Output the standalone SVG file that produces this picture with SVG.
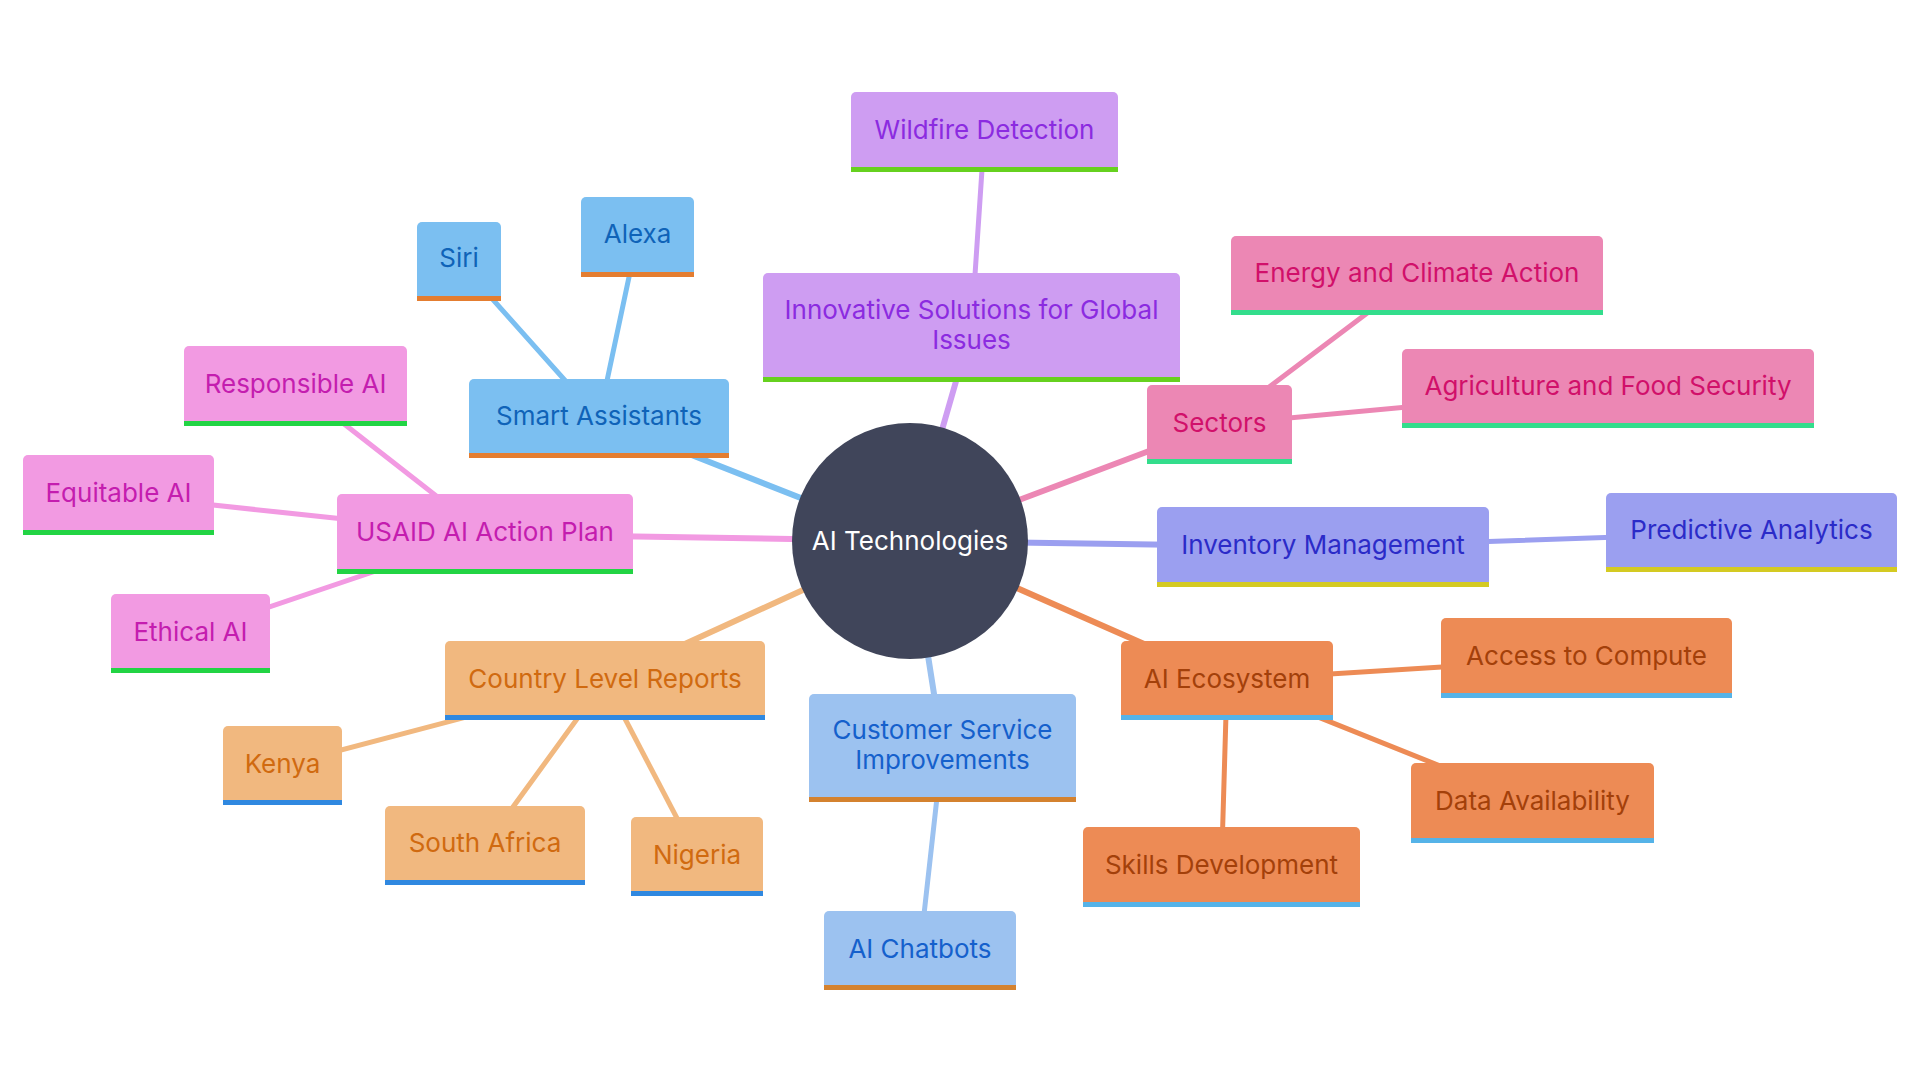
<svg xmlns="http://www.w3.org/2000/svg" width="1920" height="1080" viewBox="0 0 1920 1080">
<style>
text{font-family:Inter,"Noto Sans",sans-serif;font-size:26px;text-anchor:middle}
.e{stroke-linecap:round;fill:none}
.l1{stroke-width:6}
.l2{stroke-width:5}
.gP .b{fill:#CE9DF2}.gP .s{fill:#66D11F}.gP text{fill:#8B2BE0}
.gS .b{fill:#EC87B4}.gS .s{fill:#33DD8C}.gS text{fill:#D1106A}
.gI .b{fill:#9B9FF0}.gI .s{fill:#D4CA22}.gI text{fill:#2B2BC8}
.gO .b{fill:#ED8B55}.gO .s{fill:#55B3E8}.gO text{fill:#A3400A}
.gC .b{fill:#9CC2F0}.gC .s{fill:#D4822F}.gC text{fill:#1560CC}
.gT .b{fill:#F1B87F}.gT .s{fill:#2F88E0}.gT text{fill:#D06A10}
.gU .b{fill:#F29AE2}.gU .s{fill:#22D444}.gU text{fill:#C41DAF}
.gA .b{fill:#7BBFF1}.gA .s{fill:#E47D30}.gA text{fill:#0F63B8}
</style>
<rect width="1920" height="1080" fill="#ffffff"/>
<g id="connectors" class="e">
<g stroke="#CE9DF2">
<line class="l1" x1="910" y1="541" x2="971.5" y2="327.5"/>
<line class="l2" x1="971.5" y1="327.5" x2="984.5" y2="132"/>
</g>
<g stroke="#EC87B4">
<line class="l1" x1="910" y1="541" x2="1219.5" y2="424.5"/>
<line class="l2" x1="1219.5" y1="424.5" x2="1417" y2="275.5"/>
<line class="l2" x1="1219.5" y1="424.5" x2="1608" y2="388.5"/>
</g>
<g stroke="#9B9FF0">
<line class="l1" x1="910" y1="541" x2="1323" y2="547"/>
<line class="l2" x1="1323" y1="547" x2="1751.5" y2="532.5"/>
</g>
<g stroke="#ED8B55">
<line class="l1" x1="910" y1="541" x2="1227" y2="680.5"/>
<line class="l2" x1="1227" y1="680.5" x2="1586.5" y2="658"/>
<line class="l2" x1="1227" y1="680.5" x2="1532.5" y2="803"/>
<line class="l2" x1="1227" y1="680.5" x2="1221.5" y2="867"/>
</g>
<g stroke="#9CC2F0">
<line class="l1" x1="910" y1="541" x2="942.5" y2="748"/>
<line class="l2" x1="942.5" y1="748" x2="920" y2="950.5"/>
</g>
<g stroke="#F1B87F">
<line class="l1" x1="910" y1="541" x2="605" y2="680.5"/>
<line class="l2" x1="605" y1="680.5" x2="282.5" y2="765.5"/>
<line class="l2" x1="605" y1="680.5" x2="485" y2="845.5"/>
<line class="l2" x1="605" y1="680.5" x2="697" y2="856.5"/>
</g>
<g stroke="#F29AE2">
<line class="l1" x1="910" y1="541" x2="485" y2="534"/>
<line class="l2" x1="485" y1="534" x2="118.5" y2="495"/>
<line class="l2" x1="485" y1="534" x2="190.5" y2="633.5"/>
<line class="l2" x1="485" y1="534" x2="295.5" y2="386"/>
</g>
<g stroke="#7BBFF1">
<line class="l1" x1="910" y1="541" x2="599" y2="418.5"/>
<line class="l2" x1="599" y1="418.5" x2="459" y2="261.5"/>
<line class="l2" x1="599" y1="418.5" x2="637.5" y2="237"/>
</g>
</g>
<g id="root">
<circle cx="910" cy="541" r="118" fill="#40455A"/>
<text x="910" y="550" fill="#ffffff">AI Technologies</text>
</g>
<g id="innovative" class="gP"><rect class="b" x="763" y="273" width="417" height="109" rx="5"/><rect class="s" x="763" y="377" width="417" height="5"/><text x="971.5" y="319">Innovative Solutions for Global</text><text x="971.5" y="349">Issues</text></g>
<g id="wildfire" class="gP"><rect class="b" x="851" y="92" width="267" height="80" rx="5"/><rect class="s" x="851" y="167" width="267" height="5"/><text x="984.5" y="139">Wildfire Detection</text></g>
<g id="sectors" class="gS"><rect class="b" x="1147" y="385" width="145" height="79" rx="5"/><rect class="s" x="1147" y="459" width="145" height="5"/><text x="1219.5" y="432">Sectors</text></g>
<g id="energy" class="gS"><rect class="b" x="1231" y="236" width="372" height="79" rx="5"/><rect class="s" x="1231" y="310" width="372" height="5"/><text x="1417" y="282">Energy and Climate Action</text></g>
<g id="agriculture" class="gS"><rect class="b" x="1402" y="349" width="412" height="79" rx="5"/><rect class="s" x="1402" y="423" width="412" height="5"/><text x="1608" y="395">Agriculture and Food Security</text></g>
<g id="inventory" class="gI"><rect class="b" x="1157" y="507" width="332" height="80" rx="5"/><rect class="s" x="1157" y="582" width="332" height="5"/><text x="1323" y="554">Inventory Management</text></g>
<g id="predictive" class="gI"><rect class="b" x="1606" y="493" width="291" height="79" rx="5"/><rect class="s" x="1606" y="567" width="291" height="5"/><text x="1751.5" y="539">Predictive Analytics</text></g>
<g id="ecosystem" class="gO"><rect class="b" x="1121" y="641" width="212" height="79" rx="5"/><rect class="s" x="1121" y="715" width="212" height="5"/><text x="1227" y="688">AI Ecosystem</text></g>
<g id="compute" class="gO"><rect class="b" x="1441" y="618" width="291" height="80" rx="5"/><rect class="s" x="1441" y="693" width="291" height="5"/><text x="1586.5" y="665">Access to Compute</text></g>
<g id="data" class="gO"><rect class="b" x="1411" y="763" width="243" height="80" rx="5"/><rect class="s" x="1411" y="838" width="243" height="5"/><text x="1532.5" y="810">Data Availability</text></g>
<g id="skills" class="gO"><rect class="b" x="1083" y="827" width="277" height="80" rx="5"/><rect class="s" x="1083" y="902" width="277" height="5"/><text x="1221.5" y="874">Skills Development</text></g>
<g id="customer" class="gC"><rect class="b" x="809" y="694" width="267" height="108" rx="5"/><rect class="s" x="809" y="797" width="267" height="5"/><text x="942.5" y="739">Customer Service</text><text x="942.5" y="769">Improvements</text></g>
<g id="chatbots" class="gC"><rect class="b" x="824" y="911" width="192" height="79" rx="5"/><rect class="s" x="824" y="985" width="192" height="5"/><text x="920" y="958">AI Chatbots</text></g>
<g id="country" class="gT"><rect class="b" x="445" y="641" width="320" height="79" rx="5"/><rect class="s" x="445" y="715" width="320" height="5"/><text x="605" y="688">Country Level Reports</text></g>
<g id="kenya" class="gT"><rect class="b" x="223" y="726" width="119" height="79" rx="5"/><rect class="s" x="223" y="800" width="119" height="5"/><text x="282.5" y="773">Kenya</text></g>
<g id="southafrica" class="gT"><rect class="b" x="385" y="806" width="200" height="79" rx="5"/><rect class="s" x="385" y="880" width="200" height="5"/><text x="485" y="852">South Africa</text></g>
<g id="nigeria" class="gT"><rect class="b" x="631" y="817" width="132" height="79" rx="5"/><rect class="s" x="631" y="891" width="132" height="5"/><text x="697" y="864">Nigeria</text></g>
<g id="usaid" class="gU"><rect class="b" x="337" y="494" width="296" height="80" rx="5"/><rect class="s" x="337" y="569" width="296" height="5"/><text x="485" y="541">USAID AI Action Plan</text></g>
<g id="equitable" class="gU"><rect class="b" x="23" y="455" width="191" height="80" rx="5"/><rect class="s" x="23" y="530" width="191" height="5"/><text x="118.5" y="502">Equitable AI</text></g>
<g id="ethical" class="gU"><rect class="b" x="111" y="594" width="159" height="79" rx="5"/><rect class="s" x="111" y="668" width="159" height="5"/><text x="190.5" y="641">Ethical AI</text></g>
<g id="responsible" class="gU"><rect class="b" x="184" y="346" width="223" height="80" rx="5"/><rect class="s" x="184" y="421" width="223" height="5"/><text x="295.5" y="393">Responsible AI</text></g>
<g id="smart" class="gA"><rect class="b" x="469" y="379" width="260" height="79" rx="5"/><rect class="s" x="469" y="453" width="260" height="5"/><text x="599" y="425">Smart Assistants</text></g>
<g id="siri" class="gA"><rect class="b" x="417" y="222" width="84" height="79" rx="5"/><rect class="s" x="417" y="296" width="84" height="5"/><text x="459" y="267">Siri</text></g>
<g id="alexa" class="gA"><rect class="b" x="581" y="197" width="113" height="80" rx="5"/><rect class="s" x="581" y="272" width="113" height="5"/><text x="637.5" y="243">Alexa</text></g>
</svg>
